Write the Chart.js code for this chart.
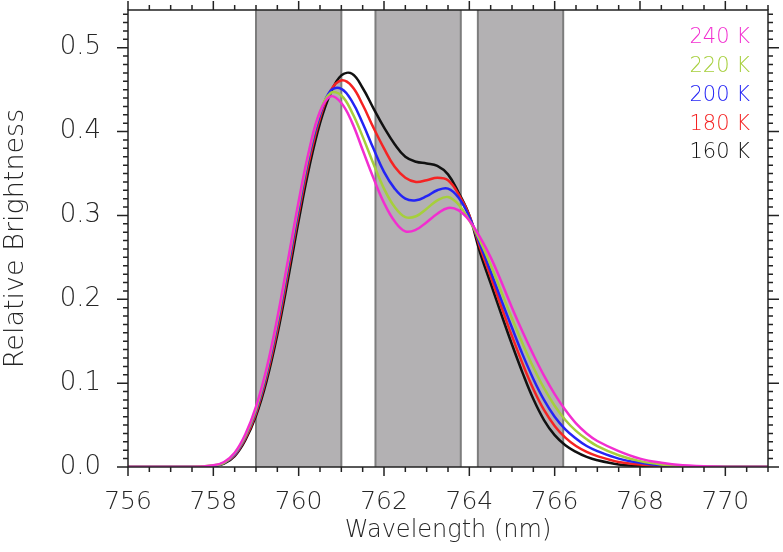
<!DOCTYPE html>
<html>
<head>
<meta charset="utf-8">
<script src="https://cdn.jsdelivr.net/npm/chart.js@4.4.1/dist/chart.umd.min.js"></script>
<style>
  html, body { margin: 0; padding: 0; background: #fff; }
</style>
</head>
<body>
<canvas id="chart" width="783" height="552"></canvas>
<script>
// wavelength grid (nm), shared by every curve
const WAVELENGTH = [756, 757.5, 758, 758.25, 758.5, 758.75, 759, 759.25, 759.5, 759.75,
  760, 760.25, 760.5, 760.75, 761, 761.25, 761.5, 761.75, 762, 762.25, 762.5, 762.75,
  763, 763.25, 763.5, 763.75, 764, 764.25, 764.5, 764.75, 765, 765.25, 765.5, 765.75,
  766, 766.25, 766.5, 766.75, 767, 767.5, 768, 768.5, 769, 769.5, 770, 771];

const B_240K = [0, 0, 0.002, 0.006, 0.017, 0.039, 0.072, 0.118, 0.178, 0.247,
  0.317, 0.379, 0.424, 0.442, 0.434, 0.411, 0.378, 0.345, 0.315, 0.293, 0.281, 0.283,
  0.292, 0.302, 0.309, 0.306, 0.294, 0.274, 0.250, 0.221, 0.190, 0.161, 0.134, 0.109,
  0.087, 0.068, 0.052, 0.040, 0.031, 0.019, 0.010, 0.005, 0.002, 0.001, 0, 0];
const B_220K = [0, 0, 0.002, 0.005, 0.016, 0.037, 0.069, 0.115, 0.174, 0.243,
  0.313, 0.376, 0.423, 0.446, 0.443, 0.423, 0.394, 0.362, 0.332, 0.310, 0.298, 0.299,
  0.308, 0.318, 0.322, 0.313, 0.294, 0.270, 0.241, 0.209, 0.177, 0.147, 0.119, 0.094,
  0.073, 0.056, 0.043, 0.033, 0.025, 0.014, 0.007, 0.003, 0.001, 0, 0, 0];
const B_200K = [0, 0, 0.001, 0.005, 0.015, 0.036, 0.067, 0.112, 0.170, 0.238,
  0.308, 0.372, 0.420, 0.449, 0.451, 0.436, 0.410, 0.380, 0.352, 0.332, 0.320, 0.318,
  0.323, 0.330, 0.332, 0.321, 0.298, 0.266, 0.233, 0.199, 0.166, 0.134, 0.105, 0.080,
  0.060, 0.045, 0.034, 0.025, 0.019, 0.010, 0.005, 0.002, 0.001, 0, 0, 0];
const B_180K = [0, 0, 0.001, 0.005, 0.014, 0.034, 0.064, 0.108, 0.164, 0.232,
  0.302, 0.366, 0.416, 0.449, 0.461, 0.454, 0.432, 0.405, 0.380, 0.358, 0.345, 0.340,
  0.342, 0.345, 0.342, 0.325, 0.300, 0.262, 0.227, 0.191, 0.156, 0.123, 0.093, 0.068,
  0.049, 0.035, 0.025, 0.018, 0.013, 0.006, 0.003, 0.001, 0, 0, 0, 0];
const B_160K = [0, 0, 0.001, 0.004, 0.013, 0.032, 0.061, 0.103, 0.158, 0.224,
  0.294, 0.358, 0.410, 0.446, 0.467, 0.469, 0.452, 0.428, 0.405, 0.385, 0.370, 0.364,
  0.362, 0.359, 0.349, 0.327, 0.300, 0.256, 0.219, 0.182, 0.146, 0.112, 0.081, 0.056,
  0.038, 0.026, 0.018, 0.012, 0.008, 0.003, 0.001, 0, 0, 0, 0, 0];

const SERIES = [B_240K, B_220K, B_200K, B_180K, B_160K];
const SERIES_LABELS = ['240 K', '220 K', '200 K', '180 K', '160 K'];
const SERIES_COLORS = ['#f22ed0', '#a6cf3c', '#2424f5', '#f52323', '#111111'];

const X_TICKS = [756, 758, 760, 762, 764, 766, 768, 770];
const Y_TICKS = [0, 0.1, 0.2, 0.3, 0.4, 0.5];

// shaded wavelength windows
const BANDS = [[759.0, 761.0], [761.8, 763.8], [764.2, 766.2]];

const FONT = '"DejaVu Sans", sans-serif';
const TEXT_COLOR = '#262626';

const bandPlugin = {
  id: 'bands',
  beforeDatasetsDraw(chart) {
    let ctx = chart.ctx;
    let area = chart.chartArea;
    let x = chart.scales.x;
    ctx.save();
    for (let b of BANDS) {
      let x0 = x.getPixelForValue(b[0]);
      let x1 = x.getPixelForValue(b[1]);
      ctx.fillStyle = '#b3b1b3';
      ctx.fillRect(x0, area.top, x1 - x0, area.bottom - area.top);
      ctx.strokeStyle = '#7d7d7d';
      ctx.lineWidth = 2;
      ctx.beginPath();
      ctx.moveTo(x0, area.top); ctx.lineTo(x0, area.bottom);
      ctx.moveTo(x1, area.top); ctx.lineTo(x1, area.bottom);
      ctx.stroke();
    }
    ctx.restore();
  }
};

// box with outward ticks on all four sides, plus the colour key
const framePlugin = {
  id: 'frame',
  afterDatasetsDraw(chart) {
    let ctx = chart.ctx;
    let a = chart.chartArea;
    let x = chart.scales.x;
    let y = chart.scales.y;
    ctx.save();
    ctx.strokeStyle = '#222';
    ctx.lineWidth = 1.5;
    ctx.strokeRect(a.left, a.top, a.right - a.left, a.bottom - a.top);
    ctx.beginPath();
    for (let v = x.min; v <= x.max + 1e-6; v += 0.5) {
      let px = x.getPixelForValue(v);
      let len = X_TICKS.includes(v) ? 9 : 5;
      ctx.moveTo(px, a.bottom); ctx.lineTo(px, a.bottom + len);
      ctx.moveTo(px, a.top); ctx.lineTo(px, a.top - len);
    }
    for (let i = 0; i <= 54; i++) {
      let py = y.getPixelForValue(i / 100);
      let len = i % 10 == 0 ? 11 : 5;
      ctx.moveTo(a.left, py); ctx.lineTo(a.left - len, py);
      ctx.moveTo(a.right, py); ctx.lineTo(a.right + len, py);
    }
    ctx.stroke();
    ctx.restore();
  },
  afterDraw(chart) {
    let ctx = chart.ctx;
    ctx.save();
    ctx.font = '200 21px ' + FONT;
    ctx.textAlign = 'right';
    ctx.textBaseline = 'middle';
    for (let i = 0; i < SERIES_LABELS.length; i++) {
      ctx.fillStyle = SERIES_COLORS[i];
      ctx.fillText(SERIES_LABELS[i], 750, 38 + i * 28.7);
    }
    ctx.restore();
  }
};

let datasets = [];
for (let i = 0; i < SERIES.length; i++) {
  datasets.push({
    label: SERIES_LABELS[i],
    data: WAVELENGTH.map((w, j) => ({x: w, y: SERIES[i][j]})),
    borderColor: SERIES_COLORS[i],
    borderWidth: 2.5,
    pointRadius: 0,
    tension: 0.4,
    fill: false
  });
}

new Chart(document.getElementById('chart'), {
  type: 'line',
  data: {datasets: datasets},
  options: {
    responsive: false,
    animation: false,
    devicePixelRatio: 1,
    layout: {padding: {top: 10, right: 15, left: 0, bottom: 0}},
    plugins: {legend: {display: false}, tooltip: {enabled: false}},
    scales: {
      x: {
        type: 'linear',
        min: 756,
        max: 771,
        afterBuildTicks: (s) => { s.ticks = X_TICKS.map(v => ({value: v})); },
        afterFit: (s) => { s.height = 85; s.paddingLeft = 0; s.paddingRight = 0; },
        grid: {display: false, drawTicks: false},
        border: {display: false},
        ticks: {
          padding: 20, autoSkip: false, maxRotation: 0,
          color: TEXT_COLOR, font: {family: FONT, size: 25, weight: 200},
          callback: (v) => String(v)
        },
        title: {
          display: true, text: 'Wavelength (nm)', color: TEXT_COLOR,
          font: {family: FONT, size: 24, weight: 200}, padding: {top: 0, bottom: 7}
        }
      },
      y: {
        min: 0,
        max: 0.545,
        afterBuildTicks: (s) => { s.ticks = Y_TICKS.map(v => ({value: v})); },
        afterFit: (s) => { s.width = 128; s.paddingTop = 0; s.paddingBottom = 0; },
        grid: {display: false, drawTicks: false},
        border: {display: false},
        ticks: {
          padding: 27, autoSkip: false,
          color: TEXT_COLOR, font: {family: FONT, size: 26, weight: 200},
          callback: (v) => v.toFixed(1)
        },
        title: {
          display: true, text: 'Relative Brightness', color: TEXT_COLOR,
          font: {family: FONT, size: 27, weight: 200}, padding: {top: 0, bottom: 0}
        }
      }
    }
  },
  plugins: [bandPlugin, framePlugin]
});
</script>
</body>
</html>
